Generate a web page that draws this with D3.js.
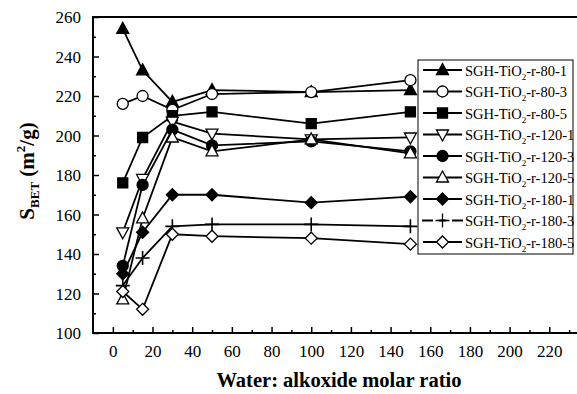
<!DOCTYPE html>
<html>
<head>
<meta charset="utf-8">
<script src="https://cdn.jsdelivr.net/npm/d3@7"></script>
<style>
  body { margin: 0; background: #fff; }
  svg text { font-family: "Liberation Serif", "Times New Roman", Times, "DejaVu Serif", serif !important; fill: #000; }
</style>
</head>
<body>
<div class="chart"></div>
<script>
// water : alkoxide molar ratio
var ratios = [5, 15, 30, 50, 100, 150];

var seriesNames = [
    "80-1", "80-3", "80-5",
    "120-1", "120-3", "120-5",
    "180-1", "180-3", "180-5"
];

var s80_1  = [254, 233, 217, 223, 222, 223];
var s80_3  = [216, 220, 213, 221, 222, 228];
var s80_5  = [176, 199, 210, 212, 206, 212];
var s120_1 = [151, 178, 207, 201, 198, 199];
var s120_3 = [134, 175, 203, 195, 197, 192];
var s120_5 = [117, 158, 199, 192, 198, 191];
var s180_1 = [130, 151, 170, 170, 166, 169];
var s180_3 = [124, 138, 154, 155, 155, 154];
var s180_5 = [121, 112, 150, 149, 148, 145];

var seriesValues = [s80_1, s80_3, s80_5, s120_1, s120_3, s120_5, s180_1, s180_3, s180_5];
var markers = ["triUp", "circle", "square", "triDown", "circle", "triUp", "diamond", "plus", "diamond"];
var filled  = [true, false, true, false, true, false, true, false, false];

var w = 577, h = 394;
var mLeft = 93, mTop = 17, mBottom = 333, mRight = 585;

var svg = d3.select(".chart").append("svg")
    .attr("width", w)
    .attr("height", h);

var x = d3.scaleLinear().domain([-10, 238]).range([mLeft, mRight]);
var y = d3.scaleLinear().domain([100, 260]).range([mBottom, mTop]);

// marker paths
function markerPath(type) {
    if (type == "triUp") return "M0,-6.5L6,4.5L-6,4.5Z";
    if (type == "triDown") return "M0,6.5L6,-4.5L-6,-4.5Z";
    if (type == "square") return "M-5,-5H5V5H-5Z";
    if (type == "diamond") return "M0,-6L6,0L0,6L-6,0Z";
    if (type == "plus") return "M-7,0H7M0,-7V7";
    return d3.symbol().type(d3.symbolCircle).size(95)();
}

// axes, ticks inside
var axisX = d3.axisBottom(x)
    .tickValues(d3.range(0, 231, 10))
    .tickSizeInner(-6)
    .tickSizeOuter(0)
    .tickPadding(12)
    .tickFormat(d => (d % 20 == 0 ? d : ""));

var gx = svg.append("g")
    .attr("transform", "translate(0," + mBottom + ")")
    .call(axisX);

var axisY = d3.axisLeft(y)
    .tickValues(d3.range(100, 261, 10))
    .tickSizeInner(-6)
    .tickSizeOuter(0)
    .tickPadding(12)
    .tickFormat(d => (d % 20 == 0 ? d : ""));

var gy = svg.append("g")
    .attr("transform", "translate(" + mLeft + ",0)")
    .call(axisY);

[gx, gy].forEach(function(g) {
    g.attr("font-family", null);
    g.select(".domain").remove();
    g.selectAll("line").attr("stroke", "#000").attr("stroke-width", 1.5);
    g.selectAll("text").style("font-size", "17px");
});
gx.selectAll(".tick").filter(d => d % 20 != 0).select("line").attr("y2", -3);
gy.selectAll(".tick").filter(d => d % 20 != 0).select("line").attr("x2", 3);
gy.selectAll("text").attr("dy", "0.35em");

// frame
svg.append("rect")
    .attr("x", mLeft)
    .attr("y", mTop)
    .attr("width", mRight - mLeft)
    .attr("height", mBottom - mTop)
    .attr("fill", "none")
    .attr("stroke", "#000")
    .attr("stroke-width", 2);

var line = d3.line()
    .x((d, i) => x(ratios[i]))
    .y(d => y(d));

seriesValues.forEach(function(vals, k) {
    svg.append("path")
        .attr("d", line(vals))
        .attr("fill", "none")
        .attr("stroke", "#000")
        .attr("stroke-width", 1.8);
});

seriesValues.forEach(function(vals, k) {
    svg.selectAll(".m" + k)
        .data(vals)
        .enter()
        .append("path")
        .attr("class", "m" + k)
        .attr("transform", (d, i) => "translate(" + x(ratios[i]) + "," + y(d) + ")")
        .attr("d", markerPath(markers[k]))
        .attr("fill", filled[k] ? "#000" : "#fff")
        .attr("stroke", "#000")
        .attr("stroke-width", markers[k] == "plus" ? 1.6 : 1.3);
});

// legend
var legend = svg.append("g").attr("transform", "translate(418,60)");
legend.append("rect")
    .attr("width", 155)
    .attr("height", 194)
    .attr("fill", "#fff")
    .attr("stroke", "#000")
    .attr("stroke-width", 1);

seriesNames.forEach(function(name, k) {
    var row = legend.append("g").attr("transform", "translate(0," + (10 + k * 21.5) + ")");
    if (markers[k] == "plus") {
        row.append("path").attr("d", "M4,0H15M21,0H28M34,0H45");
    } else {
        row.append("path").attr("d", "M5,0H44");
    }
    row.select("path").attr("stroke", "#000").attr("stroke-width", 1.8);
    row.append("path")
        .attr("transform", "translate(24.5,0)")
        .attr("d", markerPath(markers[k]))
        .attr("fill", filled[k] ? "#000" : "#fff")
        .attr("stroke", "#000")
        .attr("stroke-width", 1.3);
    var t = row.append("text")
        .attr("x", 47)
        .attr("y", 5.5)
        .style("font-size", "14.5px");
    t.append("tspan").text("SGH-TiO");
    t.append("tspan").attr("dy", 4).style("font-size", "9px").text("2");
    t.append("tspan").attr("dy", -4).text("-r-" + name);
});

// axis titles
svg.append("text")
    .attr("x", 339)
    .attr("y", 387)
    .attr("text-anchor", "middle")
    .style("font-size", "20.5px")
    .style("font-weight", "bold")
    .text("Water: alkoxide molar ratio");

var yl = svg.append("text")
    .attr("transform", "translate(34,171) rotate(-90)")
    .attr("text-anchor", "middle")
    .style("font-size", "21px")
    .style("font-weight", "bold");
yl.append("tspan").text("S");
yl.append("tspan").attr("dy", 5).style("font-size", "13px").text("BET");
yl.append("tspan").attr("dy", -5).text(" (m");
yl.append("tspan").attr("dy", -9).style("font-size", "13px").text("2");
yl.append("tspan").attr("dy", 9).text("/g)");
</script>
</body>
</html>
